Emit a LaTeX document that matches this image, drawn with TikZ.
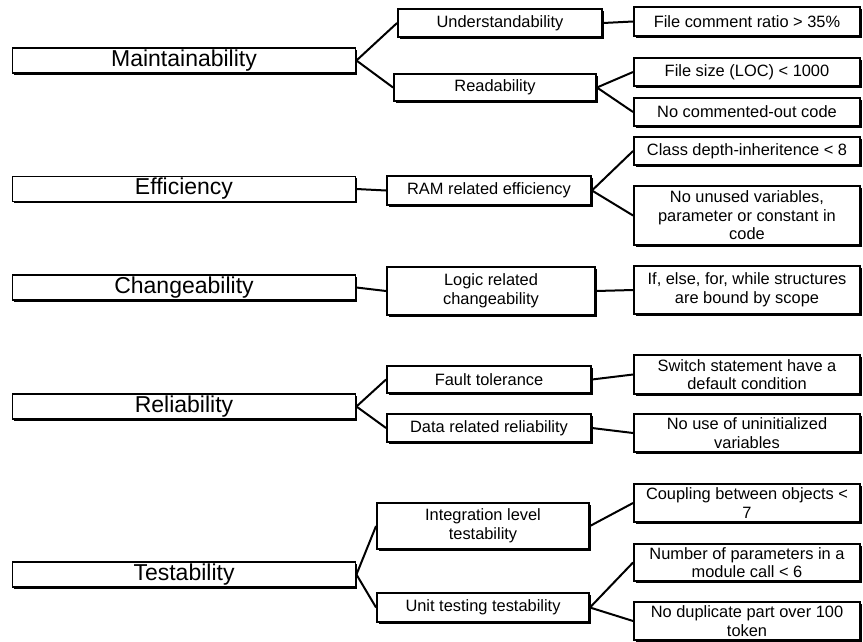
\documentclass[tikz,border=0pt]{standalone}
\usepackage{fontspec}
\setmainfont{Liberation Sans}
\usetikzlibrary{shadows}
\begin{document}
\begin{tikzpicture}[x={(1pt,0pt)},y={(0pt,-1pt)},
  box/.style={draw=black, line width=1.9pt, fill=white, align=center, inner sep=0pt,
    drop shadow={shadow xshift=1.6pt, shadow yshift=-1.6pt, fill=black, opacity=1},
    font=\fontsize{16.4}{18.6}\selectfont},
  bigbox/.style={box, minimum width=343pt, minimum height=25pt,
    font=\fontsize{23}{26}\selectfont},
  leafbox/.style={box, minimum width=226pt},
  link/.style={draw=black, line width=2pt}]
\useasboundingbox (0,0) rectangle (863,641);

% level 1
\node[bigbox] (mai) at (184,60.5) {Maintainability};
\node[bigbox] (eff) at (184,189) {Efficiency};
\node[bigbox] (chg) at (184,287.5) {Changeability};
\node[bigbox] (rel) at (184,406.5) {Reliability};
\node[bigbox] (tst) at (184,574.5) {Testability};

% level 2
\node[box, minimum width=204pt, minimum height=28pt] (und) at (500,23) {Understandability};
\node[box, minimum width=202pt, minimum height=27pt] (rea) at (495,87.5) {Readability};
\node[box, minimum width=204pt, minimum height=29pt] (ram) at (489,190.5) {RAM related efficiency};
\node[box, minimum width=208pt, minimum height=48pt] (log) at (491,291) {Logic related\\changeability};
\node[box, minimum width=204pt, minimum height=27pt] (flt) at (489,379.5) {Fault tolerance};
\node[box, minimum width=204pt, minimum height=28pt] (dat) at (489,428) {Data related reliability};
\node[box, minimum width=212pt, minimum height=46pt] (int) at (483,526) {Integration level\\testability};
\node[box, minimum width=212pt, minimum height=29pt] (uni) at (483,607.5) {Unit testing testability};

% level 3
\node[leafbox, minimum height=29pt] (fcr) at (747,21.5) {File comment ratio > 35\%};
\node[leafbox, minimum height=28pt] (fsz) at (747,72) {File size (LOC) < 1000};
\node[leafbox, minimum height=28pt] (nco) at (747,112) {No commented-out code};
\node[leafbox, minimum height=28pt] (cdi) at (747,151) {Class depth-inheritence < 8};
\node[leafbox, minimum height=59pt] (nuv) at (747,215.5) {No unused variables,\\parameter or constant in\\code};
\node[leafbox, minimum height=48pt] (ife) at (747,290) {If, else, for, while structures\\are bound by scope};
\node[leafbox, minimum height=39pt] (swi) at (747,374.5) {Switch statement have a\\default condition};
\node[leafbox, minimum height=38pt] (nui) at (747,433) {No use of uninitialized\\variables};
\node[leafbox, minimum height=38pt] (cou) at (747,503) {Coupling between objects <\\7};
\node[leafbox, minimum height=37pt] (nop) at (747,562.5) {Number of parameters in a\\module call < 6};
\node[leafbox, minimum height=38pt] (ndp) at (747,621) {No duplicate part over 100\\token};

% connectors
\path[link] (mai.east) -- (und.west);
\path[link] (mai.east) -- (rea.west);
\path[link] (und.east) -- (fcr.west);
\path[link] (rea.east) -- (fsz.west);
\path[link] (rea.east) -- (nco.west);
\path[link] (eff.east) -- (ram.west);
\path[link] (ram.east) -- (cdi.west);
\path[link] (ram.east) -- (nuv.west);
\path[link] (chg.east) -- (log.west);
\path[link] (log.east) -- (ife.west);
\path[link] (rel.east) -- (flt.west);
\path[link] (rel.east) -- (dat.west);
\path[link] (flt.east) -- (swi.west);
\path[link] (dat.east) -- (nui.west);
\path[link] (tst.east) -- (int.west);
\path[link] (tst.east) -- (uni.west);
\path[link] (int.east) -- (cou.west);
\path[link] (uni.east) -- (nop.west);
\path[link] (uni.east) -- (ndp.west);
\end{tikzpicture}
\end{document}
